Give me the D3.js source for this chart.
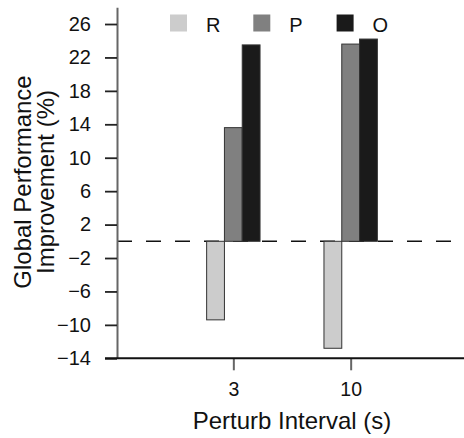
<!DOCTYPE html>
<html>
<head>
<meta charset="utf-8">
<script src="https://cdn.jsdelivr.net/npm/d3@7"></script>
<style>
  body { margin: 0; background: #fff; }
  svg { font-family: "Liberation Sans", Arial, Helvetica, sans-serif; }
</style>
</head>
<body>
<svg id="chart" width="464" height="438"></svg>
<script>
// perturb intervals (s) and the three series
const intervals = ["3", "10"]
const seriesNames = ["R", "P", "O"]
const rValues = [-9.4, -12.8]
const pValues = [13.6, 23.6]
const oValues = [23.5, 24.2]
const yTicks = [-14, -10, -6, -2, 2, 6, 10, 14, 18, 22, 26]

const colors = {R: "#cccccc", P: "#808080", O: "#1a1a1a"}

const seriesValues = {R: rValues, P: pValues, O: oValues}
const data = intervals.map((iv, i) => ({
  interval: iv,
  bars: seriesNames.map(s => ({key: s, value: seriesValues[s][i]}))
}))

const svg = d3.select('#chart')

const axisX = 117      // left position of y axis line
const axisBottomY = 358.3

const yScale = d3.scaleLinear()
  .domain([-14, 28])
  .range([axisBottomY, 7.3])

const xScale = d3.scalePoint()
  .domain(intervals)
  .range([116, 468])
  .padding(1)

const inner = d3.scaleBand()
  .domain(seriesNames)
  .range([-26.7, 26.7])

// dashed zero line
svg.append('line')
  .attr('x1', axisX).attr('x2', 464)
  .attr('y1', yScale(0)).attr('y2', yScale(0))
  .attr('stroke', '#111')
  .attr('stroke-width', 1.5)
  .attr('stroke-dasharray', '15,14')

// bars
const groups = svg.selectAll('g.grp')
  .data(data)
  .enter().append('g')
  .attr('class', 'grp')
  .attr('transform', d => 'translate(' + xScale(d.interval) + ',0)')

groups.selectAll('rect')
  .data(d => d.bars)
  .enter().append('rect')
  .attr('x', d => inner(d.key))
  .attr('width', inner.bandwidth())
  .attr('y', d => yScale(Math.max(0, d.value)))
  .attr('height', d => Math.abs(yScale(d.value) - yScale(0)))
  .attr('fill', d => colors[d.key])
  .attr('stroke', '#333')
  .attr('stroke-width', 1)

// y axis
const yAxis = d3.axisLeft(yScale)
  .tickValues(yTicks)
  .tickSize(12)
  .tickSizeOuter(0)
  .tickPadding(14)

const gy = svg.append('g')
  .attr('transform', 'translate(' + axisX + ',0)')
  .call(yAxis)
gy.select('.domain').attr('stroke', '#666').attr('stroke-width', 2)
gy.selectAll('.tick line').attr('stroke', '#222').attr('stroke-width', 1.8)
gy.selectAll('.tick text')
  .attr('font-size', 20)
  .attr('font-family', '"Liberation Sans", Arial, sans-serif')
  .attr('fill', '#111')

// x axis
const xAxis = d3.axisBottom(xScale)
  .tickSize(12)
  .tickSizeOuter(0)
  .tickPadding(12)

const gx = svg.append('g')
  .attr('transform', 'translate(0,' + axisBottomY + ')')
  .call(xAxis)
gx.select('.domain').remove()
gx.append('line')
  .attr('x1', 105).attr('x2', 464)
  .attr('stroke', '#111')
  .attr('stroke-width', 2)
gx.selectAll('.tick line').attr('stroke', '#666').attr('stroke-width', 2)
gx.selectAll('.tick text')
  .attr('font-size', 19.5)
  .attr('font-family', '"Liberation Sans", Arial, sans-serif')
  .attr('fill', '#111')

// axis titles
svg.append('text')
  .attr('x', 292).attr('y', 429)
  .attr('text-anchor', 'middle')
  .attr('font-size', 24)
  .attr('fill', '#111')
  .text('Perturb Interval (s)')

const ytitle = svg.append('text')
  .attr('transform', 'translate(31,' + 182 + ') rotate(-90)')
  .attr('text-anchor', 'middle')
  .attr('font-size', 24)
  .attr('fill', '#111')
ytitle.append('tspan').attr('x', 0).attr('y', 0).text('Global Performance')
ytitle.append('tspan').attr('x', 0).attr('y', 23).text('Improvement (%)')

// legend
const legend = svg.selectAll('g.leg')
  .data(seriesNames)
  .enter().append('g')
  .attr('class', 'leg')
  .attr('transform', (d, i) => 'translate(' + (170 + i * 83.3) + ',14.5)')

legend.append('rect')
  .attr('width', 17).attr('height', 17)
  .attr('fill', d => colors[d])

legend.append('text')
  .attr('x', 36).attr('y', 17.8)
  .attr('font-size', 20)
  .attr('fill', '#111')
  .text(d => d)
</script>
</body>
</html>
